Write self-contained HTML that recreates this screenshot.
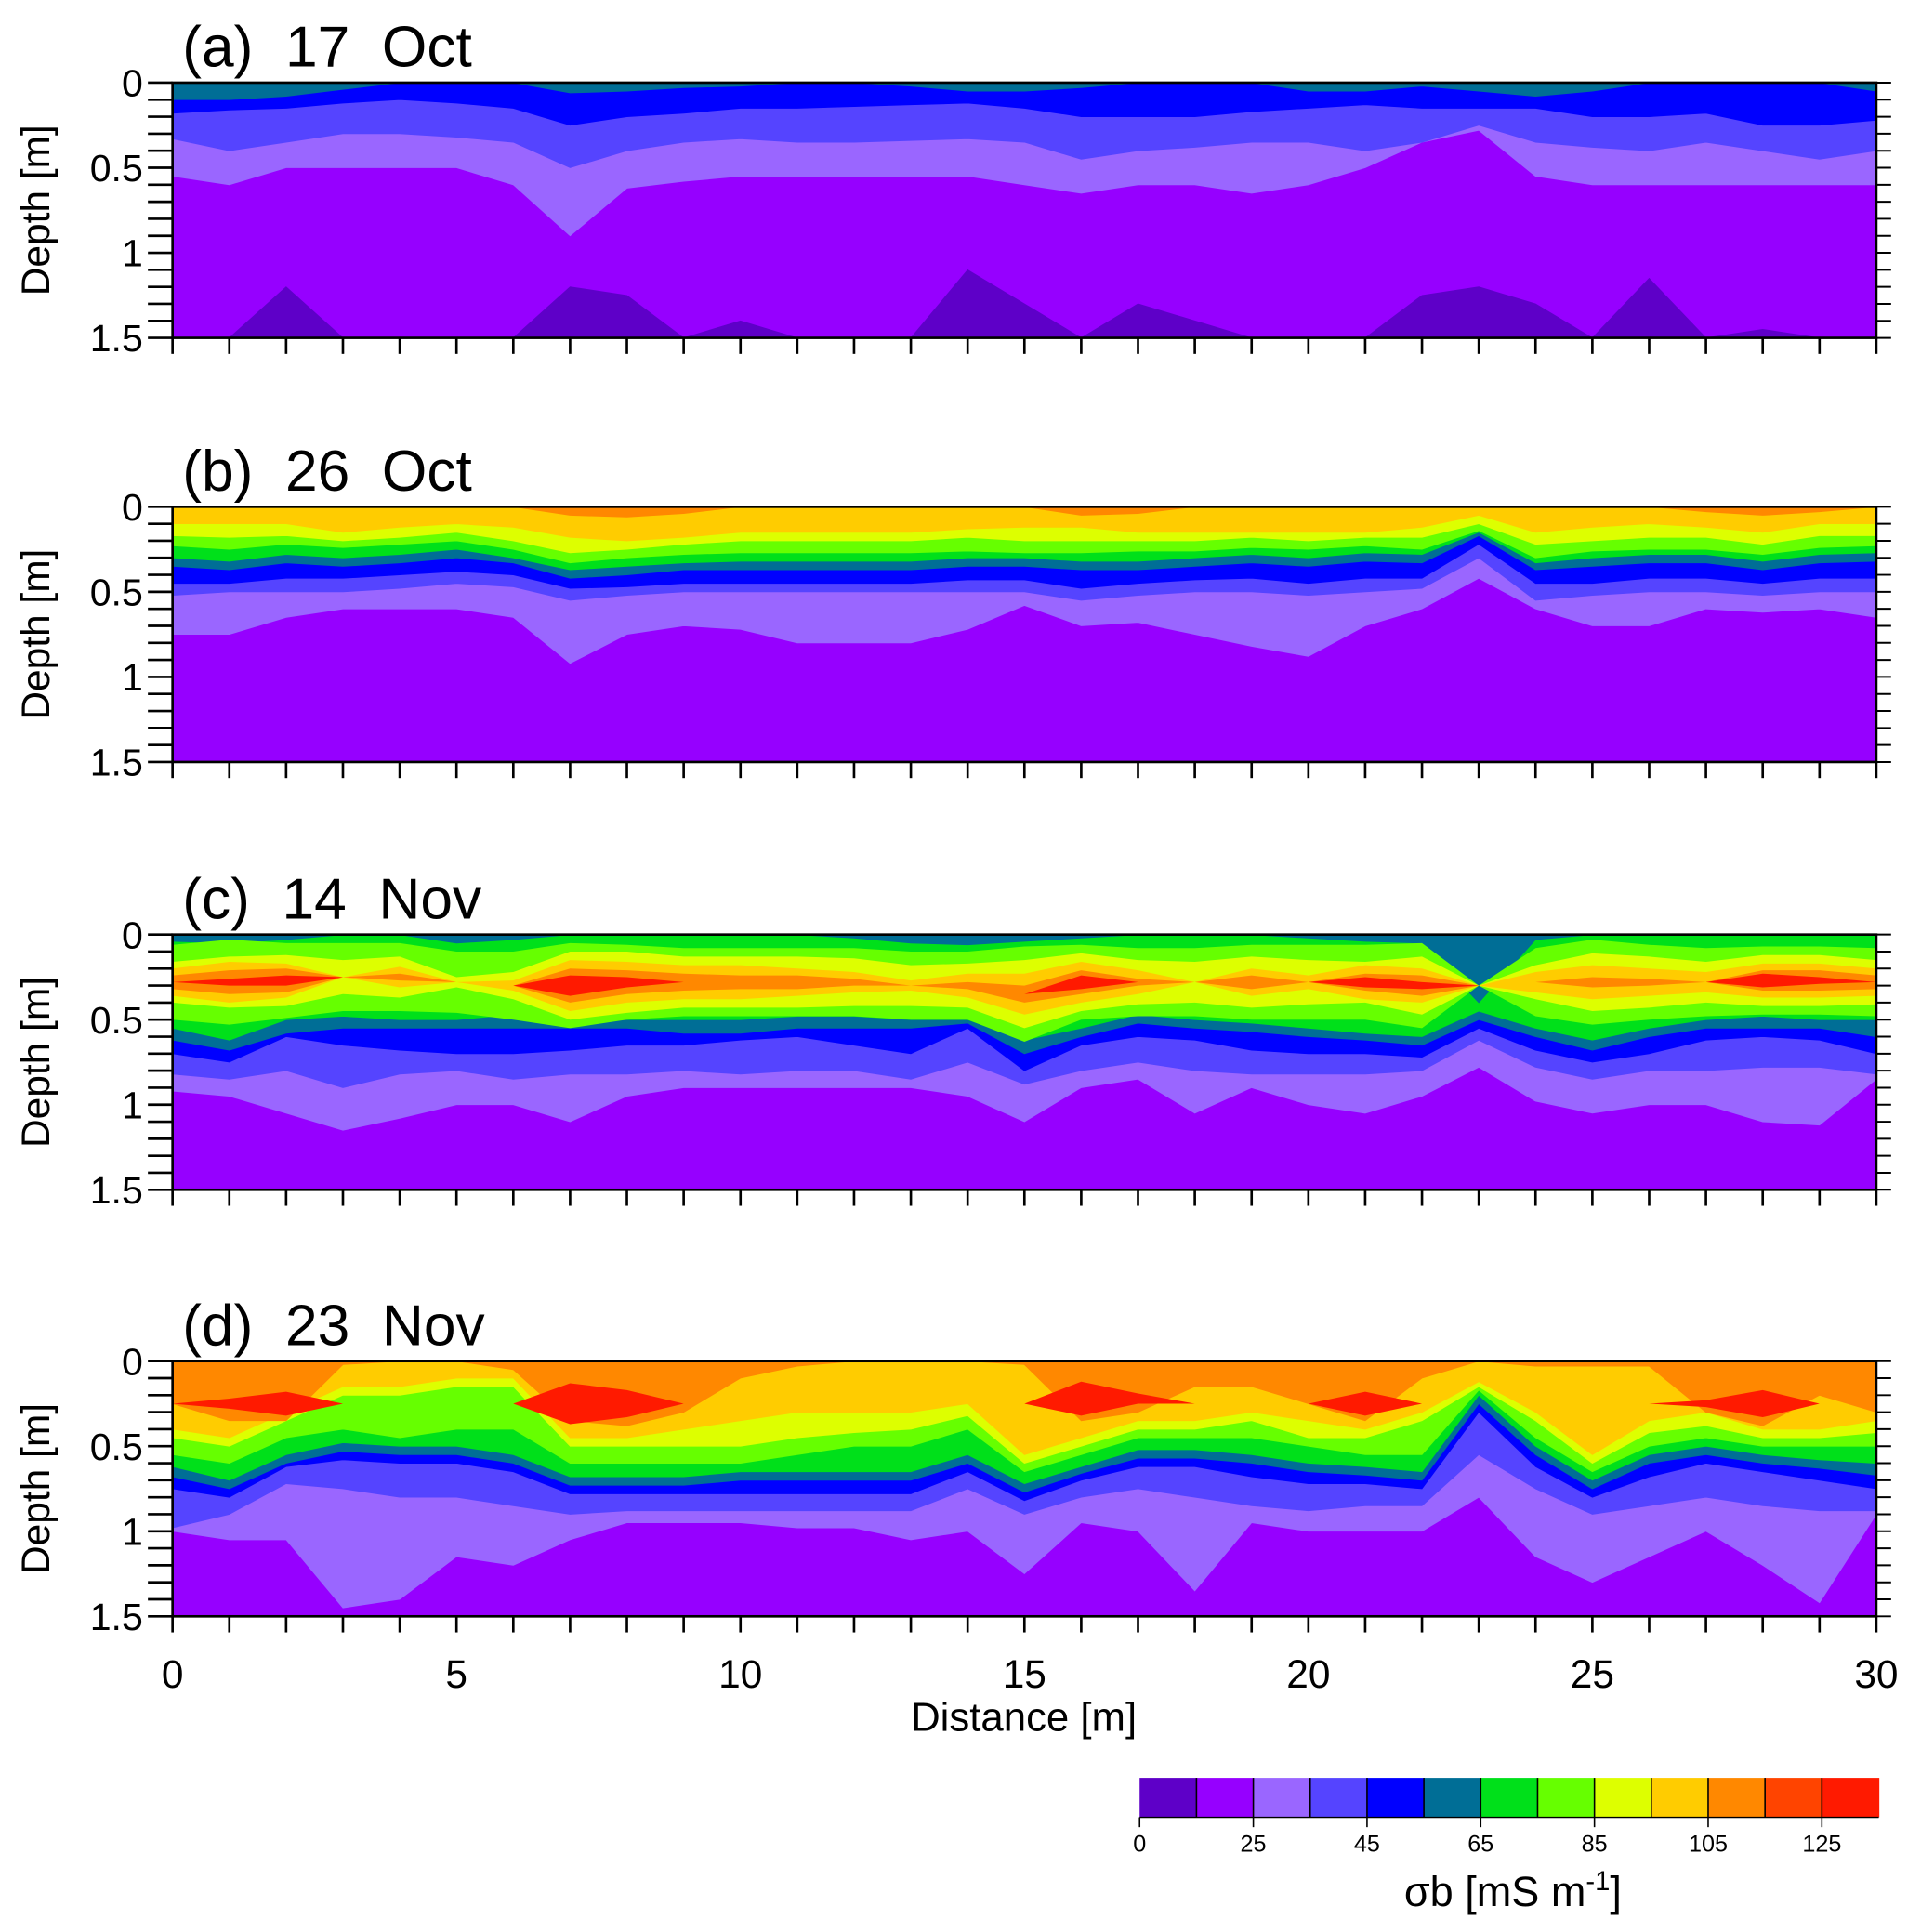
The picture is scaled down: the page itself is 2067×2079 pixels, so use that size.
<!DOCTYPE html>
<html><head><meta charset="utf-8"><style>
html,body{margin:0;padding:0;background:#fff;}
svg{display:block;font-family:"Liberation Sans",sans-serif;}
</style></head><body>
<svg id="fig" width="2067" height="2079" viewBox="0 0 1552 1561" xmlns="http://www.w3.org/2000/svg"><g id="root" transform="translate(139.4,66.8) scale(0.9953,0.9961) translate(-140,-68)"></g></svg>
<script>
// ---------- data ----------
const levels = [0,15,25,35,45,55,65,75,85,95,105,115,125];
const levelColors = ["#5e00c8","#9600ff","#9a66ff","#5544ff","#0000ff","#006e96","#00e01a","#66ff00","#ddff00","#ffcc00","#ff8800","#ff4400","#ff1a00"];
const cbLabels = ["0","25","45","65","85","105","125"];
const cbLabelIdx = [0,2,4,6,8,10,12];
const xTicks = [0,5,10,15,20,25,30];
const yTicks = [0,0.5,1,1.5];
const panelTitles = ["(a)  17  Oct","(b)  26  Oct","(c)  14  Nov","(d)  23  Nov"];
const Z = [0,0,0,0,0,0,0,0,0,0,0,0,0,0,0,0,0,0,0,0,0,0,0,0,0,0,0,0,0,0,0];
const B = [1.5,1.5,1.5,1.5,1.5,1.5,1.5,1.5,1.5,1.5,1.5,1.5,1.5,1.5,1.5,1.5,1.5,1.5,1.5,1.5,1.5,1.5,1.5,1.5,1.5,1.5,1.5,1.5,1.5,1.5,1.5];
// panel a
const aLp = [0.55,0.6,0.5,0.5,0.5,0.5,0.6,0.9,0.62,0.58,0.55,0.55,0.55,0.55,0.55,0.6,0.65,0.6,0.6,0.65,0.6,0.5,0.35,0.28,0.55,0.6,0.6,0.6,0.6,0.6,0.6];
const aSlate = [0.33,0.4,0.35,0.3,0.3,0.32,0.35,0.5,0.4,0.35,0.33,0.35,0.35,0.34,0.33,0.35,0.45,0.4,0.38,0.35,0.35,0.4,0.35,0.25,0.35,0.38,0.4,0.35,0.4,0.45,0.4];
const aBlue = [0.18,0.16,0.15,0.12,0.1,0.12,0.15,0.25,0.2,0.18,0.15,0.15,0.14,0.13,0.12,0.15,0.2,0.2,0.2,0.17,0.15,0.13,0.15,0.15,0.15,0.2,0.2,0.18,0.25,0.25,0.22];
const aTeal = [0.1,0.1,0.08,0.04,0,0,0,0.06,0.05,0.03,0.02,0,0,0.02,0.05,0.05,0.03,0,0,0,0.05,0.05,0.02,0.05,0.08,0.05,0,0,0,0,0.05];
const aDark = [1.5,1.5,1.2,1.5,1.5,1.5,1.5,1.2,1.25,1.5,1.4,1.5,1.5,1.5,1.1,1.3,1.5,1.3,1.4,1.5,1.5,1.5,1.25,1.2,1.3,1.5,1.15,1.5,1.45,1.5,1.5];
// panel b
const bLp = [0.75,0.75,0.65,0.6,0.6,0.6,0.65,0.92,0.75,0.7,0.72,0.8,0.8,0.8,0.72,0.58,0.7,0.68,0.75,0.82,0.88,0.7,0.6,0.42,0.6,0.7,0.7,0.6,0.62,0.6,0.65];
const bSlate = [0.52,0.5,0.5,0.5,0.48,0.45,0.47,0.55,0.52,0.5,0.5,0.5,0.5,0.5,0.5,0.5,0.55,0.52,0.5,0.5,0.52,0.5,0.48,0.3,0.55,0.52,0.5,0.5,0.52,0.5,0.5];
const bBlue = [0.45,0.45,0.42,0.42,0.4,0.38,0.4,0.48,0.47,0.45,0.45,0.45,0.45,0.45,0.43,0.43,0.48,0.45,0.43,0.42,0.45,0.42,0.42,0.22,0.45,0.45,0.42,0.42,0.45,0.42,0.42];
const bTeal = [0.35,0.37,0.33,0.35,0.33,0.3,0.33,0.42,0.4,0.37,0.37,0.37,0.37,0.37,0.35,0.35,0.37,0.37,0.35,0.33,0.35,0.32,0.33,0.17,0.37,0.35,0.33,0.33,0.37,0.33,0.32];
const bGreen = [0.3,0.32,0.28,0.3,0.28,0.25,0.3,0.37,0.35,0.33,0.32,0.32,0.32,0.32,0.3,0.3,0.32,0.32,0.3,0.28,0.3,0.27,0.28,0.15,0.33,0.3,0.28,0.28,0.32,0.28,0.27];
const bLgreen = [0.23,0.25,0.22,0.24,0.22,0.2,0.25,0.33,0.3,0.28,0.27,0.27,0.27,0.27,0.26,0.27,0.27,0.26,0.26,0.24,0.25,0.23,0.25,0.14,0.3,0.26,0.25,0.25,0.28,0.24,0.23];
const bYellow = [0.17,0.18,0.17,0.2,0.18,0.15,0.2,0.27,0.25,0.22,0.2,0.2,0.2,0.2,0.18,0.2,0.2,0.2,0.2,0.18,0.2,0.18,0.18,0.1,0.22,0.2,0.18,0.18,0.22,0.17,0.17];
const bGold = [0.1,0.1,0.1,0.15,0.12,0.1,0.12,0.18,0.2,0.18,0.15,0.15,0.15,0.15,0.13,0.12,0.12,0.15,0.15,0.15,0.15,0.15,0.12,0.05,0.15,0.12,0.1,0.12,0.15,0.1,0.1];
const bOrange = [0,0,0,0,0,0,0,0.05,0.06,0.04,0,0,0,0,0,0,0.05,0.04,0,0,0,0,0,0,0,0,0,0.03,0.05,0.03,0];
// panel c
const cLp = [0.92,0.95,1.05,1.15,1.08,1.0,1.0,1.1,0.95,0.9,0.9,0.9,0.9,0.9,0.95,1.1,0.9,0.85,1.05,0.9,1.0,1.05,0.95,0.78,0.98,1.05,1.0,1.0,1.1,1.12,0.85];
const cSlate = [0.82,0.85,0.8,0.9,0.82,0.8,0.85,0.82,0.82,0.8,0.82,0.8,0.8,0.85,0.75,0.88,0.8,0.75,0.8,0.82,0.82,0.82,0.8,0.62,0.78,0.85,0.8,0.8,0.78,0.78,0.82];
const cBlue = [0.7,0.75,0.6,0.65,0.68,0.7,0.7,0.68,0.65,0.65,0.62,0.6,0.65,0.7,0.55,0.8,0.65,0.6,0.62,0.68,0.7,0.7,0.72,0.55,0.68,0.75,0.7,0.62,0.6,0.62,0.7];
const cTeal = [0.62,0.68,0.58,0.55,0.55,0.55,0.55,0.55,0.55,0.58,0.58,0.55,0.55,0.55,0.52,0.7,0.6,0.52,0.55,0.57,0.6,0.62,0.65,0.5,0.6,0.68,0.6,0.55,0.55,0.55,0.6];
const cGreen = [0.55,0.62,0.5,0.48,0.5,0.5,0.47,0.5,0.5,0.5,0.5,0.48,0.48,0.5,0.5,0.62,0.55,0.47,0.5,0.52,0.55,0.58,0.6,0.45,0.55,0.62,0.55,0.5,0.48,0.5,0.5];
const cTopTeal = [0.04,0.05,0.03,0,0,0.05,0.03,0,0,0,0,0,0.02,0.05,0.06,0.04,0.02,0,0,0,0.02,0.04,0.05,0.4,0.03,0,0,0,0,0,0];
const cCenter = [0.28,0.28,0.27,0.25,0.25,0.28,0.3,0.3,0.28,0.28,0.28,0.28,0.28,0.3,0.3,0.35,0.28,0.28,0.28,0.28,0.28,0.28,0.3,0.3,0.28,0.28,0.28,0.28,0.27,0.27,0.28];
const cHwLgreen = [0.22,0.25,0.22,0.2,0.2,0.18,0.2,0.25,0.22,0.2,0.2,0.2,0.2,0.2,0.2,0.28,0.22,0.2,0.2,0.22,0.22,0.22,0.25,0,0.2,0.25,0.22,0.2,0.2,0.2,0.2];
const cHwYellow = [0.12,0.15,0.15,0.1,0.12,0.03,0.08,0.2,0.18,0.15,0.15,0.15,0.14,0.12,0.13,0.2,0.17,0.13,0.12,0.15,0.13,0.12,0.17,0,0.1,0.17,0.15,0.12,0.15,0.15,0.13];
const cHwGold = [0.08,0.12,0.1,0,0.06,0,0.03,0.15,0.12,0.1,0.1,0.08,0.06,0.03,0.07,0.12,0.12,0.07,0,0.08,0.04,0.1,0.1,0,0.06,0.1,0.08,0.06,0.1,0.1,0.08];
const cHwOrange = [0.04,0.07,0.07,0,0.02,0,0,0.1,0.07,0.05,0.04,0.04,0.02,0,0.02,0.05,0.07,0.02,0,0.04,0,0.05,0.06,0,0,0.03,0.02,0,0.06,0.06,0.04];
const cHwRed = [0,0.02,0.03,0,0,0,0,0.06,0.03,0,0,0,0,0,0,0,0.04,0,0,0,0,0.03,0.02,0,0,0,0,0,0.04,0.02,0];
// panel d
const dLp = [1.0,1.05,1.05,1.45,1.4,1.15,1.2,1.05,0.95,0.95,0.95,0.98,0.98,1.05,1.0,1.25,0.95,1.0,1.35,0.95,1.0,1.0,1.0,0.8,1.15,1.3,1.15,1.0,1.2,1.42,0.9];
const dSlate = [0.98,0.9,0.72,0.75,0.8,0.8,0.85,0.9,0.88,0.88,0.88,0.88,0.88,0.88,0.75,0.9,0.8,0.75,0.8,0.85,0.88,0.85,0.85,0.55,0.75,0.9,0.85,0.8,0.85,0.88,0.88];
const dBlue = [0.75,0.8,0.62,0.58,0.6,0.6,0.65,0.78,0.78,0.78,0.78,0.78,0.78,0.78,0.65,0.82,0.7,0.62,0.62,0.68,0.72,0.72,0.75,0.3,0.62,0.8,0.68,0.6,0.65,0.7,0.75];
const dTeal = [0.68,0.75,0.6,0.53,0.55,0.55,0.6,0.73,0.73,0.73,0.7,0.7,0.7,0.7,0.6,0.77,0.66,0.57,0.57,0.6,0.65,0.67,0.7,0.25,0.55,0.75,0.6,0.55,0.6,0.63,0.67];
const dGreen = [0.62,0.7,0.55,0.48,0.5,0.5,0.55,0.68,0.68,0.68,0.65,0.65,0.65,0.65,0.55,0.72,0.62,0.52,0.52,0.55,0.6,0.62,0.65,0.2,0.5,0.7,0.55,0.5,0.55,0.58,0.6];
const dLgreen = [0.55,0.6,0.45,0.4,0.45,0.4,0.4,0.6,0.6,0.6,0.6,0.55,0.5,0.5,0.4,0.65,0.55,0.45,0.45,0.45,0.5,0.55,0.55,0.17,0.45,0.65,0.5,0.45,0.5,0.5,0.5];
const dYellow = [0.45,0.5,0.35,0.2,0.2,0.15,0.15,0.5,0.5,0.5,0.5,0.45,0.42,0.4,0.32,0.6,0.5,0.4,0.4,0.35,0.45,0.45,0.35,0.15,0.35,0.6,0.42,0.38,0.45,0.45,0.42];
const dGold = [0.4,0.45,0.3,0.15,0.15,0.1,0.1,0.45,0.45,0.4,0.35,0.3,0.3,0.3,0.25,0.55,0.45,0.35,0.35,0.3,0.35,0.4,0.3,0.12,0.3,0.55,0.35,0.3,0.4,0.4,0.35];
const dOrange = [0.25,0.35,0.35,0.02,0,0,0.05,0.35,0.38,0.3,0.1,0.03,0,0,0,0.02,0.35,0.3,0.15,0.15,0.25,0.35,0.1,0,0.03,0.03,0.03,0.3,0.38,0.2,0.3];
const dCenter = [0.25,0.25,0.25,0.25,0.25,0.25,0.25,0.25,0.25,0.25,0.25,0.25,0.25,0.25,0.25,0.25,0.22,0.22,0.25,0.25,0.25,0.25,0.25,0.25,0.25,0.25,0.25,0.25,0.25,0.25,0.25];
const dHwRed = [0,0.03,0.07,0,0,0,0,0.12,0.08,0,0,0,0,0,0,0,0.1,0.03,0,0,0,0.07,0,0,0,0,0,0.02,0.08,0,0];

// ---------- layout ----------
const X0 = 140, X1 = 1523;
const panelTops = [68, 412, 759, 1105];
const PH = 207;
const NS = "http://www.w3.org/2000/svg";
const svg = document.getElementById("root");
function xs(v){ return X0 + v/30*(X1-X0); }
function mk(tag, attrs, parent){ const e=document.createElementNS(NS,tag); for(const k in attrs) e.setAttribute(k,attrs[k]); (parent||svg).appendChild(e); return e; }
function lens(c, hw, sign){ return c.map((v,i)=>v+sign*hw[i]); }

const panels = [
  [ ["#9600ff",Z,B], ["#5e00c8",aDark,B], ["#9a66ff",Z,aLp], ["#5544ff",Z,aSlate], ["#0000ff",Z,aBlue], ["#006e96",Z,aTeal] ],
  [ ["#9600ff",Z,B], ["#9a66ff",Z,bLp], ["#5544ff",Z,bSlate], ["#0000ff",Z,bBlue], ["#006e96",Z,bTeal], ["#00e01a",Z,bGreen],
    ["#66ff00",Z,bLgreen], ["#ddff00",Z,bYellow], ["#ffcc00",Z,bGold], ["#ff8800",Z,bOrange] ],
  [ ["#9600ff",Z,B], ["#9a66ff",Z,cLp], ["#5544ff",Z,cSlate], ["#0000ff",Z,cBlue], ["#006e96",Z,cTeal], ["#00e01a",Z,cGreen],
    ["#006e96",Z,cTopTeal],
    ["#66ff00",lens(cCenter,cHwLgreen,-1),lens(cCenter,cHwLgreen,1),1],
    ["#ddff00",lens(cCenter,cHwYellow,-1),lens(cCenter,cHwYellow,1),1],
    ["#ffcc00",lens(cCenter,cHwGold,-1),lens(cCenter,cHwGold,1),1],
    ["#ff8800",lens(cCenter,cHwOrange,-1),lens(cCenter,cHwOrange,1),1],
    ["#ff1a00",lens(cCenter,cHwRed,-1),lens(cCenter,cHwRed,1),1] ],
  [ ["#9600ff",Z,B], ["#9a66ff",Z,dLp], ["#5544ff",Z,dSlate], ["#0000ff",Z,dBlue], ["#006e96",Z,dTeal], ["#00e01a",Z,dGreen],
    ["#66ff00",Z,dLgreen], ["#ddff00",Z,dYellow], ["#ffcc00",Z,dGold], ["#ff8800",Z,dOrange],
    ["#ff1a00",lens(dCenter,dHwRed,-1),lens(dCenter,dHwRed,1),1] ]
];
const letters = ["a","b","c","d"];

panels.forEach((bands, p)=>{
  const top = panelTops[p];
  const ys = d => top + d/1.5*PH;
  const g = mk("g",{});
  
  
  const cp = mk("clipPath",{id:"clip"+p}, g);
  mk("rect",{x:X0,y:top,width:X1-X0,height:PH}, cp);
  const field = mk("g",{"clip-path":"url(#clip"+p+")"}, g);
  bands.forEach((b, bi)=>{
    const [col, t, bo, isLens] = b;
    let pts = [];
    for(let i=0;i<t.length;i++) pts.push(xs(i).toFixed(1)+","+ys(t[i]).toFixed(1));
    for(let i=bo.length-1;i>=0;i--) pts.push(xs(i).toFixed(1)+","+ys(bo[i]).toFixed(1));
    const attrs = {points:pts.join(" "), fill:col};
    if(!isLens){ attrs.stroke = col; attrs["stroke-width"] = "0.6"; }
    const poly = mk("polygon", attrs, field);
    
    
  });
  const frame = mk("rect",{x:X0,y:top,width:X1-X0,height:PH,fill:"none",stroke:"#000","stroke-width":"2"}, g);
  
  
  for(let k=0;k<=15;k++){
    const y = ys(k/10);
    mk("line",{x1:X0-20,x2:X0,y1:y,y2:y,stroke:"#000","stroke-width":"2"}, g);
    mk("line",{x1:X1,x2:X1+12,y1:y,y2:y,stroke:"#000","stroke-width":"1.5"}, g);
  }
  yTicks.forEach(v=>{
    const t = mk("text",{x:X0-24,y:ys(v)+11,"font-size":"31","text-anchor":"end"}, g);
    t.textContent = String(v);
    
    
  });
  for(let k=0;k<=30;k++){
    mk("line",{x1:xs(k),x2:xs(k),y1:top+PH,y2:top+PH+13,stroke:"#000","stroke-width":"2"}, g);
  }
  const yt = mk("text",{x:0,y:0,"font-size":"32","text-anchor":"middle",transform:"translate(40,"+(top+PH/2)+") rotate(-90)"}, g);
  yt.textContent = "Depth [m]";
  
  
  const tt = mk("text",{x:148,y:top-13,"font-size":"47"}, g);
  tt.textContent = panelTitles[p];
  tt.style.whiteSpace = "pre";
  
  
});

xTicks.forEach(v=>{
  const t = mk("text",{x:xs(v),y:1370,"font-size":"32","text-anchor":"middle"});
  t.textContent = String(v);
  
  
});
const xt = mk("text",{x:831,y:1405,"font-size":"33","text-anchor":"middle"});
xt.textContent = "Distance [m]";



const CB0 = 925, CBW = 46.15, CBY = 1443, CBH = 32;
const cb = mk("g",{});


levelColors.forEach((c,i)=>{
  const r = mk("rect",{x:CB0+i*CBW,y:CBY,width:CBW+0.5,height:CBH,fill:c}, cb);
  
  
  if(i>0) mk("line",{x1:CB0+i*CBW,x2:CB0+i*CBW,y1:CBY,y2:CBY+CBH,stroke:"#000","stroke-width":"1.2"}, cb);
});
cbLabelIdx.forEach((idx,j)=>{
  const x = CB0+idx*CBW;
  mk("line",{x1:x,x2:x,y1:CBY+CBH,y2:CBY+CBH+8,stroke:"#000","stroke-width":"1.2"}, cb);
  const t = mk("text",{x:x,y:CBY+CBH+28,"font-size":"19","text-anchor":"middle"}, cb);
  t.textContent = cbLabels[j];
  
  
});
mk("line",{x1:CB0,x2:CB0+13*CBW,y1:CBY+CBH,y2:CBY+CBH,stroke:"#000","stroke-width":"1"}, cb);
const ct = mk("text",{x:1228,y:1547,"font-size":"34","text-anchor":"middle"}, cb);
ct.innerHTML = 'σb [mS m<tspan dy="-13" font-size="22">-1</tspan><tspan dy="13">]</tspan>';


</script>
</body></html>
